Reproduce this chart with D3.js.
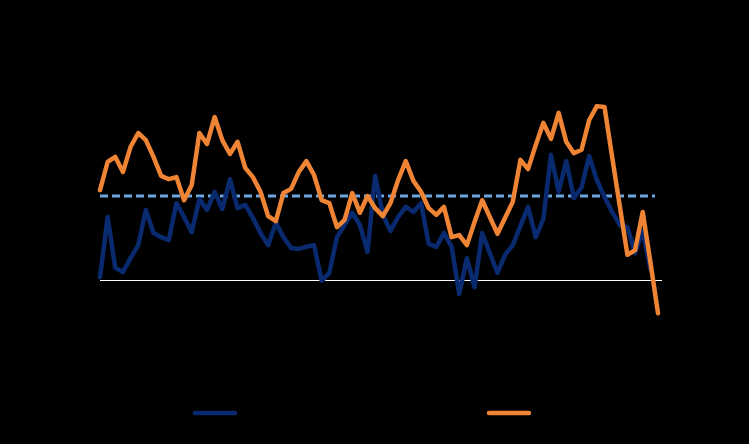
<!DOCTYPE html>
<html>
<head>
<meta charset="utf-8">
<script src="https://cdn.jsdelivr.net/npm/d3@7"></script>
<style>
  html, body { margin: 0; padding: 0; background: #000; }
  svg { display: block; font-family: "Liberation Sans", Arial, sans-serif; }
</style>
</head>
<body>
<svg id="chart" width="749" height="444"></svg>
<script>
// Series values (index-based periods)
const orangeValues = [21.4, 28.1, 29.3, 25.7, 31.7, 35.0, 33.3, 29.3, 24.8, 24.0,
  24.5, 19.0, 22.6, 35.0, 32.4, 38.8, 33.3, 30.0, 32.9, 26.7,
  24.5, 21.0, 15.2, 14.0, 20.7, 21.7, 25.7, 28.3, 25.0, 19.0,
  18.3, 12.6, 14.3, 20.7, 16.0, 20.0, 17.1, 15.2, 18.3, 23.8,
  28.3, 23.6, 21.0, 17.1, 15.5, 17.4, 10.2, 10.7, 8.3, 13.8,
  19.0, 15.0, 11.0, 14.8, 18.6, 28.6, 26.4, 32.1, 37.4, 33.6,
  39.8, 32.9, 30.2, 31.0, 38.1, 41.4, 41.2, 29.3, 17.6, 6.0,
  7.1, 16.2, 4.3, -7.9];
const blueValues = [0.7, 15.0, 2.9, 1.9, 5.2, 8.3, 16.7, 11.2, 10.2, 9.5,
  18.3, 15.0, 11.4, 19.3, 16.7, 21.0, 16.9, 24.0, 17.1, 17.9,
  14.8, 11.2, 8.3, 13.6, 10.2, 7.6, 7.4, 7.9, 8.3, -0.2,
  1.7, 10.2, 13.1, 16.0, 13.1, 6.7, 24.8, 15.5, 11.7, 15.0,
  17.4, 16.2, 18.3, 8.6, 7.9, 11.2, 7.9, -3.3, 5.2, -1.7,
  11.2, 6.4, 1.7, 6.0, 8.3, 12.9, 17.4, 10.2, 14.5, 29.8,
  21.0, 28.3, 19.5, 22.1, 29.5, 23.8, 19.8, 16.2, 13.1, 12.6,
  6.4, 11.7, 2.6];
const referenceLevel = [20];
const seriesNames = ["Series 1", "Series 2"];

const colors = { orange: "#EE8434", blue: "#0A2A70", dash: "#6DA6DE" };

const svg = d3.select("#chart");
svg.append("rect").attr("width", 749).attr("height", 444).attr("fill", "#000");

const x = d3.scaleLinear().domain([0, orangeValues.length - 1]).range([100, 658]);
const y = d3.scaleLinear().domain([-20, 60]).range([364, 28]);

// zero baseline
svg.append("line")
  .attr("x1", x(0)).attr("x2", x(orangeValues.length - 1) + 4)
  .attr("y1", y(0) + 0.5).attr("y2", y(0) + 0.5)
  .attr("stroke", "#fff").attr("stroke-width", 1);

// dashed reference
svg.append("line")
  .attr("x1", x(0)).attr("x2", x(orangeValues.length - 1) - 3)
  .attr("y1", y(referenceLevel[0])).attr("y2", y(referenceLevel[0]))
  .attr("stroke", colors.dash).attr("stroke-width", 3)
  .attr("stroke-dasharray", "8,4");

const line = d3.line().x((d, i) => x(i)).y(d => y(d));

svg.append("path").datum(blueValues)
  .attr("d", line).attr("fill", "none")
  .attr("stroke", colors.blue).attr("stroke-width", 4.5)
  .attr("stroke-linejoin", "round").attr("stroke-linecap", "round");

svg.append("path").datum(orangeValues)
  .attr("d", line).attr("fill", "none")
  .attr("stroke", colors.orange).attr("stroke-width", 4.5)
  .attr("stroke-linejoin", "round").attr("stroke-linecap", "round");

// legend (text is black, as in the reference)
const legend = [
  { name: seriesNames[0], color: colors.blue, x: 195 },
  { name: seriesNames[1], color: colors.orange, x: 489 }
];
legend.forEach(l => {
  svg.append("line")
    .attr("x1", l.x).attr("x2", l.x + 40)
    .attr("y1", 413).attr("y2", 413)
    .attr("stroke", l.color).attr("stroke-width", 4.5)
    .attr("stroke-linecap", "round");
  svg.append("text")
    .attr("x", l.x + 50).attr("y", 417)
    .attr("fill", "#000").attr("font-size", 12)
    .text(l.name);
});
</script>
</body>
</html>
